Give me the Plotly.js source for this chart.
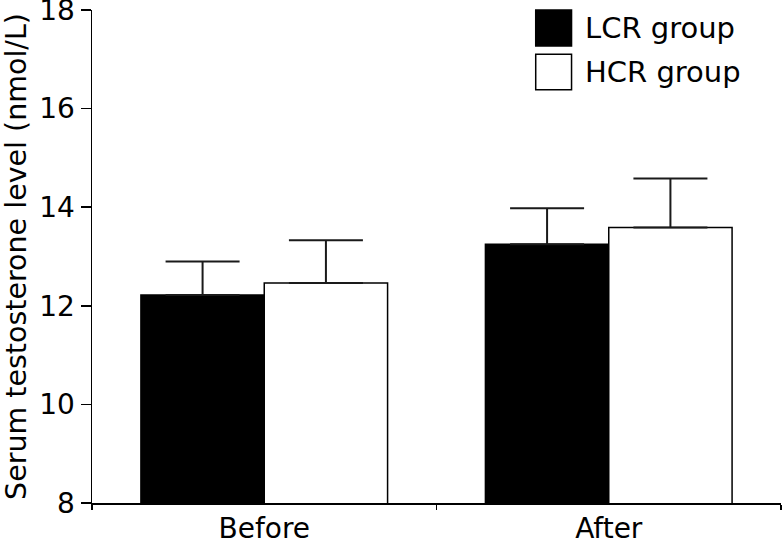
<!DOCTYPE html>
<html>
<head>
<meta charset="utf-8">
<script src="https://cdn.plot.ly/plotly-3.0.1.min.js"></script>
<style>html,body{margin:0;padding:0;background:#fff;}#chart{width:783px;height:543px;}</style>
</head>
<body>
<div id="chart"></div>
<script>
const categories = ["Before", "After"];
const seriesNames = ["LCR group", "HCR group"];
const lcrValues = [12.22, 13.25];
const lcrErrors = [0.68, 0.73];
const hcrValues = [12.46, 13.59];
const hcrErrors = [0.87, 0.99];
const yTicks = [8, 10, 12, 14, 16, 18];

const font = "DejaVu Sans, Verdana, sans-serif";

const traces = [
  {
    type: "bar", name: seriesNames[0], x: categories, y: lcrValues,
    marker: {color: "#000", line: {color: "#000", width: 1.5}},
    error_y: {type: "data", symmetric: false, array: lcrErrors, arrayminus: [0, 0], color: "#1a1a1a", thickness: 2, width: 37},
    showlegend: false
  },
  {
    type: "bar", name: seriesNames[1], x: categories, y: hcrValues,
    marker: {color: "#fff", line: {color: "#000", width: 1.5}},
    error_y: {type: "data", symmetric: false, array: hcrErrors, arrayminus: [0, 0], color: "#1a1a1a", thickness: 2, width: 37},
    showlegend: false
  }
];

const layout = {
  width: 783, height: 543,
  margin: {l: 92, r: 2, t: 10, b: 40},
  paper_bgcolor: "#fff", plot_bgcolor: "#fff",
  barmode: "group", bargap: 0.284, bargroupgap: 0,
  font: {family: font, color: "#000", size: 28},
  xaxis: {
    type: "category", showline: true, linecolor: "#000", linewidth: 1.5,
    ticks: "outside", tickson: "boundaries", ticklen: 5, tickcolor: "#000", tickwidth: 1.5,
    tickfont: {size: 28, family: font}, showgrid: false, zeroline: false,
    ticklabeloverflow: "allow", ticklabelstandoff: 0
  },
  yaxis: {
    range: [8, 18], tickvals: yTicks, ticktext: yTicks.map(String),
    showline: true, linecolor: "#000", linewidth: 1.5,
    ticks: "outside", ticklen: 10, tickcolor: "#000", tickwidth: 1.5,
    tickfont: {size: 28, family: font}, showgrid: false, zeroline: false,
    ticklabeloverflow: "allow",
    title: {text: "Serum testosterone level (nmol/L)", font: {size: 28.5, family: font}, standoff: 12}
  },
  shapes: [
    {type: "rect", xref: "paper", yref: "paper", x0: 0.644, x1: 0.696, y0: 0.927, y1: 1.0, fillcolor: "#000", line: {color: "#000", width: 1.5}},
    {type: "rect", xref: "paper", yref: "paper", x0: 0.644, x1: 0.696, y0: 0.838, y1: 0.91, fillcolor: "#fff", line: {color: "#000", width: 1.5}}
  ],
  annotations: [
    {xref: "paper", yref: "paper", x: 0.712, y: 0.963, text: seriesNames[0], showarrow: false, xanchor: "left", yanchor: "middle", font: {size: 29, family: font}},
    {xref: "paper", yref: "paper", x: 0.712, y: 0.874, text: seriesNames[1], showarrow: false, xanchor: "left", yanchor: "middle", font: {size: 29, family: font}}
  ]
};

Plotly.newPlot("chart", traces, layout, {displayModeBar: false, staticPlot: true});
</script>
</body>
</html>
